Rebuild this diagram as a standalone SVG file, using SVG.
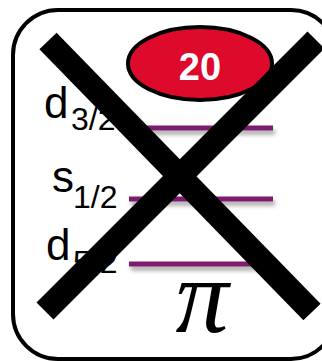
<svg xmlns="http://www.w3.org/2000/svg" width="322" height="361" viewBox="0 0 322 361">
  <defs>
    <filter id="sh" filterUnits="userSpaceOnUse" x="100" y="100" width="200" height="190">
      <feDropShadow dx="2" dy="4" stdDeviation="2.2" flood-color="#000" flood-opacity="0.35"/>
    </filter>
  </defs>
  <style>
    .lbl { font-family: "Liberation Sans", Arial, sans-serif; fill: #000; }
    .big { font-size: 44px; }
    .sub { font-size: 32px; }
    .lvl { fill: #7B1A6E; filter: url(#sh); }
    .x { stroke: #000; stroke-width: 24; stroke-linecap: butt; }
  </style>
  <rect id="frame" x="13" y="10" width="323" height="349" rx="45" ry="45" fill="#fff" stroke="#000" stroke-width="4"/>
  <g id="badge">
    <ellipse cx="200" cy="63.5" rx="72" ry="36.5" fill="#DD0A2B" stroke="#000" stroke-width="4"/>
    <text x="200" y="80" text-anchor="middle" font-family="Liberation Sans, Arial, sans-serif" font-weight="bold" font-size="38" fill="#fff">20</text>
  </g>
  <g id="levels">
    <rect class="lvl" x="147" y="125.5" width="126" height="5"/>
    <rect class="lvl" x="129" y="196.5" width="144" height="5"/>
    <rect class="lvl" x="129" y="261.5" width="144" height="5"/>
  </g>
  <g id="labels">
    <text class="lbl big" x="44" y="118">d</text>
    <text class="lbl sub" x="71" y="130">3/2</text>
    <text class="lbl big" x="52" y="192">s</text>
    <text class="lbl sub" x="73" y="208">1/2</text>
    <text class="lbl big" x="46" y="260">d</text>
    <text class="lbl sub" x="73" y="273">5/2</text>
  </g>
  <text id="pi" x="202" y="332" text-anchor="middle" font-family="Liberation Serif, Times New Roman, serif" font-style="italic" font-size="106">π</text>
  <g id="cross">
    <line class="x" x1="48" y1="41" x2="312" y2="312"/>
    <line class="x" x1="316" y1="40" x2="45" y2="311"/>
  </g>
</svg>
